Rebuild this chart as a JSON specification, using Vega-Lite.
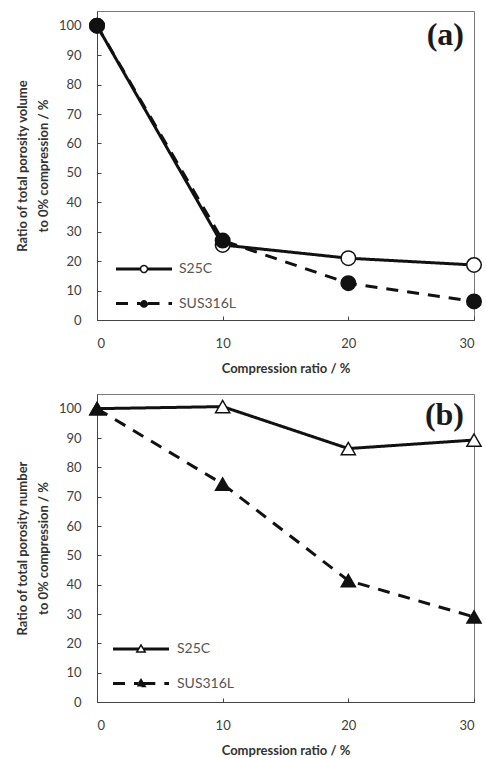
{
  "$schema": "https://vega.github.io/schema/vega-lite/v6.json",
  "padding": {"left": 15, "top": 10, "right": 5, "bottom": 2},
  "spacing": 17,
  "background": "white",
  "datasets": {
    "vol": [
      {"series": "S25C", "compression": 0, "ratio": 100},
      {"series": "S25C", "compression": 10, "ratio": 25.5},
      {"series": "S25C", "compression": 20, "ratio": 21},
      {"series": "S25C", "compression": 30, "ratio": 18.7},
      {"series": "SUS316L", "compression": 0, "ratio": 100},
      {"series": "SUS316L", "compression": 10, "ratio": 27},
      {"series": "SUS316L", "compression": 20, "ratio": 12.5},
      {"series": "SUS316L", "compression": 30, "ratio": 6.3}
    ],
    "num": [
      {"series": "S25C", "compression": 0, "ratio": 100},
      {"series": "S25C", "compression": 10, "ratio": 100.7},
      {"series": "S25C", "compression": 20, "ratio": 86.4},
      {"series": "S25C", "compression": 30, "ratio": 89.3},
      {"series": "SUS316L", "compression": 0, "ratio": 100},
      {"series": "SUS316L", "compression": 10, "ratio": 74.3},
      {"series": "SUS316L", "compression": 20, "ratio": 41.4},
      {"series": "SUS316L", "compression": 30, "ratio": 29}
    ]
  },
  "config": {
    "font": "Lato",
    "view": {"stroke": "#7a7a7a", "strokeWidth": 1},
    "axis": {
      "grid": false, "domainColor": "#444", "tickColor": "#444", "tickSize": -4,
      "labelFont": "Lato", "labelFontSize": 13, "labelColor": "#404040",
      "titleFont": "Lato", "titleFontSize": 13, "titleFontWeight": "bold", "titleColor": "#333"
    },
    "axisX": {"labelPadding": 21, "titlePadding": 12},
    "axisY": {"labelPadding": 20, "titlePadding": 8, "titleLineHeight": 21}
  },
  "resolve": {"scale": {"strokeDash": "independent", "fill": "independent"}, "legend": {"strokeDash": "independent"}},
  "vconcat": [
    {
      "width": 377, "height": 309,
      "data": {"name": "vol"},
      "title": {"text": "(a)", "anchor": "end", "frame": "group", "offset": -41, "dx": -10, "font": "Liberation Serif", "fontSize": 32, "fontWeight": "bold", "color": "#1a1a1a"},
      "encoding": {
        "x": {"field": "compression", "type": "quantitative", "scale": {"domain": [0, 30], "nice": false}, "axis": {"values": [0, 10, 20, 30], "title": "Compression ratio / %"}},
        "y": {"field": "ratio", "type": "quantitative", "scale": {"domain": [0, 105], "nice": false}, "axis": {"values": [0, 10, 20, 30, 40, 50, 60, 70, 80, 90, 100], "title": ["Ratio of total porosity volume", "to 0% compression / %"]}}
      },
      "layer": [
        {
          "mark": {"type": "line", "color": "#111", "strokeWidth": 3},
          "encoding": {
            "strokeDash": {
              "field": "series", "type": "nominal",
              "scale": {"domain": ["S25C", "SUS316L"], "range": [[1, 0], [12, 9]]},
              "legend": {
                "orient": "none", "legendX": 39, "legendY": 250, "title": null,
                "symbolType": "M-4,-0.12H-0.5M-4,0H-0.5M-4,0.12H-0.5M0.5,-0.12H4M0.5,0H4M0.5,0.12H4M0.5,0A0.5,0.5 0 1,1 -0.5,0A0.5,0.5 0 1,1 0.5,0Z",
                "symbolSize": 196, "symbolStrokeWidth": 1.5, "symbolStrokeColor": "#111",
                "labelOffset": 27, "labelFont": "Lato", "labelFontSize": 14, "labelColor": "#555",
                "rowPadding": 19.5,
                "encode": {"symbols": {"update": {
                  "fill": {"condition": {"test": "datum.value === 'S25C'", "value": "white"}, "value": "#111"},
                  "stroke": {"value": "#111"},
                  "strokeWidth": {"value": 1.5},
                  "opacity": {"value": 1}
                }}}
              }
            }
          }
        },
        {
          "mark": {"type": "point", "shape": "circle", "filled": true, "stroke": "#111", "strokeWidth": 1.5, "size": 210, "opacity": 1},
          "encoding": {
            "fill": {"field": "series", "type": "nominal", "scale": {"domain": ["S25C", "SUS316L"], "range": ["white", "#111"]}, "legend": null}
          }
        }
      ]
    },
    {
      "width": 377, "height": 308,
      "data": {"name": "num"},
      "title": {"text": "(b)", "anchor": "end", "frame": "group", "offset": -38, "dx": -10, "font": "Liberation Serif", "fontSize": 32, "fontWeight": "bold", "color": "#1a1a1a"},
      "encoding": {
        "x": {"field": "compression", "type": "quantitative", "scale": {"domain": [0, 30], "nice": false}, "axis": {"values": [0, 10, 20, 30], "title": "Compression ratio / %"}},
        "y": {"field": "ratio", "type": "quantitative", "scale": {"domain": [0, 105], "nice": false}, "axis": {"values": [0, 10, 20, 30, 40, 50, 60, 70, 80, 90, 100], "title": ["Ratio of total porosity number", "to 0% compression / %"]}}
      },
      "layer": [
        {
          "mark": {"type": "line", "color": "#111", "strokeWidth": 3},
          "encoding": {
            "strokeDash": {
              "field": "series", "type": "nominal",
              "scale": {"domain": ["S25C", "SUS316L"], "range": [[1, 0], [12, 9]]},
              "legend": {
                "orient": "none", "legendX": 36, "legendY": 247, "title": null,
                "symbolType": "M-4,-0.12H-0.33M-4,0H-0.33M-4,0.12H-0.33M0.33,-0.12H4M0.33,0H4M0.33,0.12H4M0,-0.58L0.6,0.43L-0.6,0.43Z",
                "symbolSize": 196, "symbolStrokeWidth": 1.5, "symbolStrokeColor": "#111",
                "labelOffset": 28, "labelFont": "Lato", "labelFontSize": 14, "labelColor": "#555",
                "rowPadding": 19.5,
                "encode": {"symbols": {"update": {
                  "fill": {"condition": {"test": "datum.value === 'S25C'", "value": "white"}, "value": "#111"},
                  "stroke": {"value": "#111"},
                  "strokeWidth": {"value": 1.5},
                  "opacity": {"value": 1}
                }}}
              }
            }
          }
        },
        {
          "mark": {"type": "point", "shape": "triangle-up", "filled": true, "stroke": "#111", "strokeWidth": 1.5, "size": 200, "opacity": 1},
          "encoding": {
            "fill": {"field": "series", "type": "nominal", "scale": {"domain": ["S25C", "SUS316L"], "range": ["white", "#111"]}, "legend": null}
          }
        }
      ]
    }
  ]
}
